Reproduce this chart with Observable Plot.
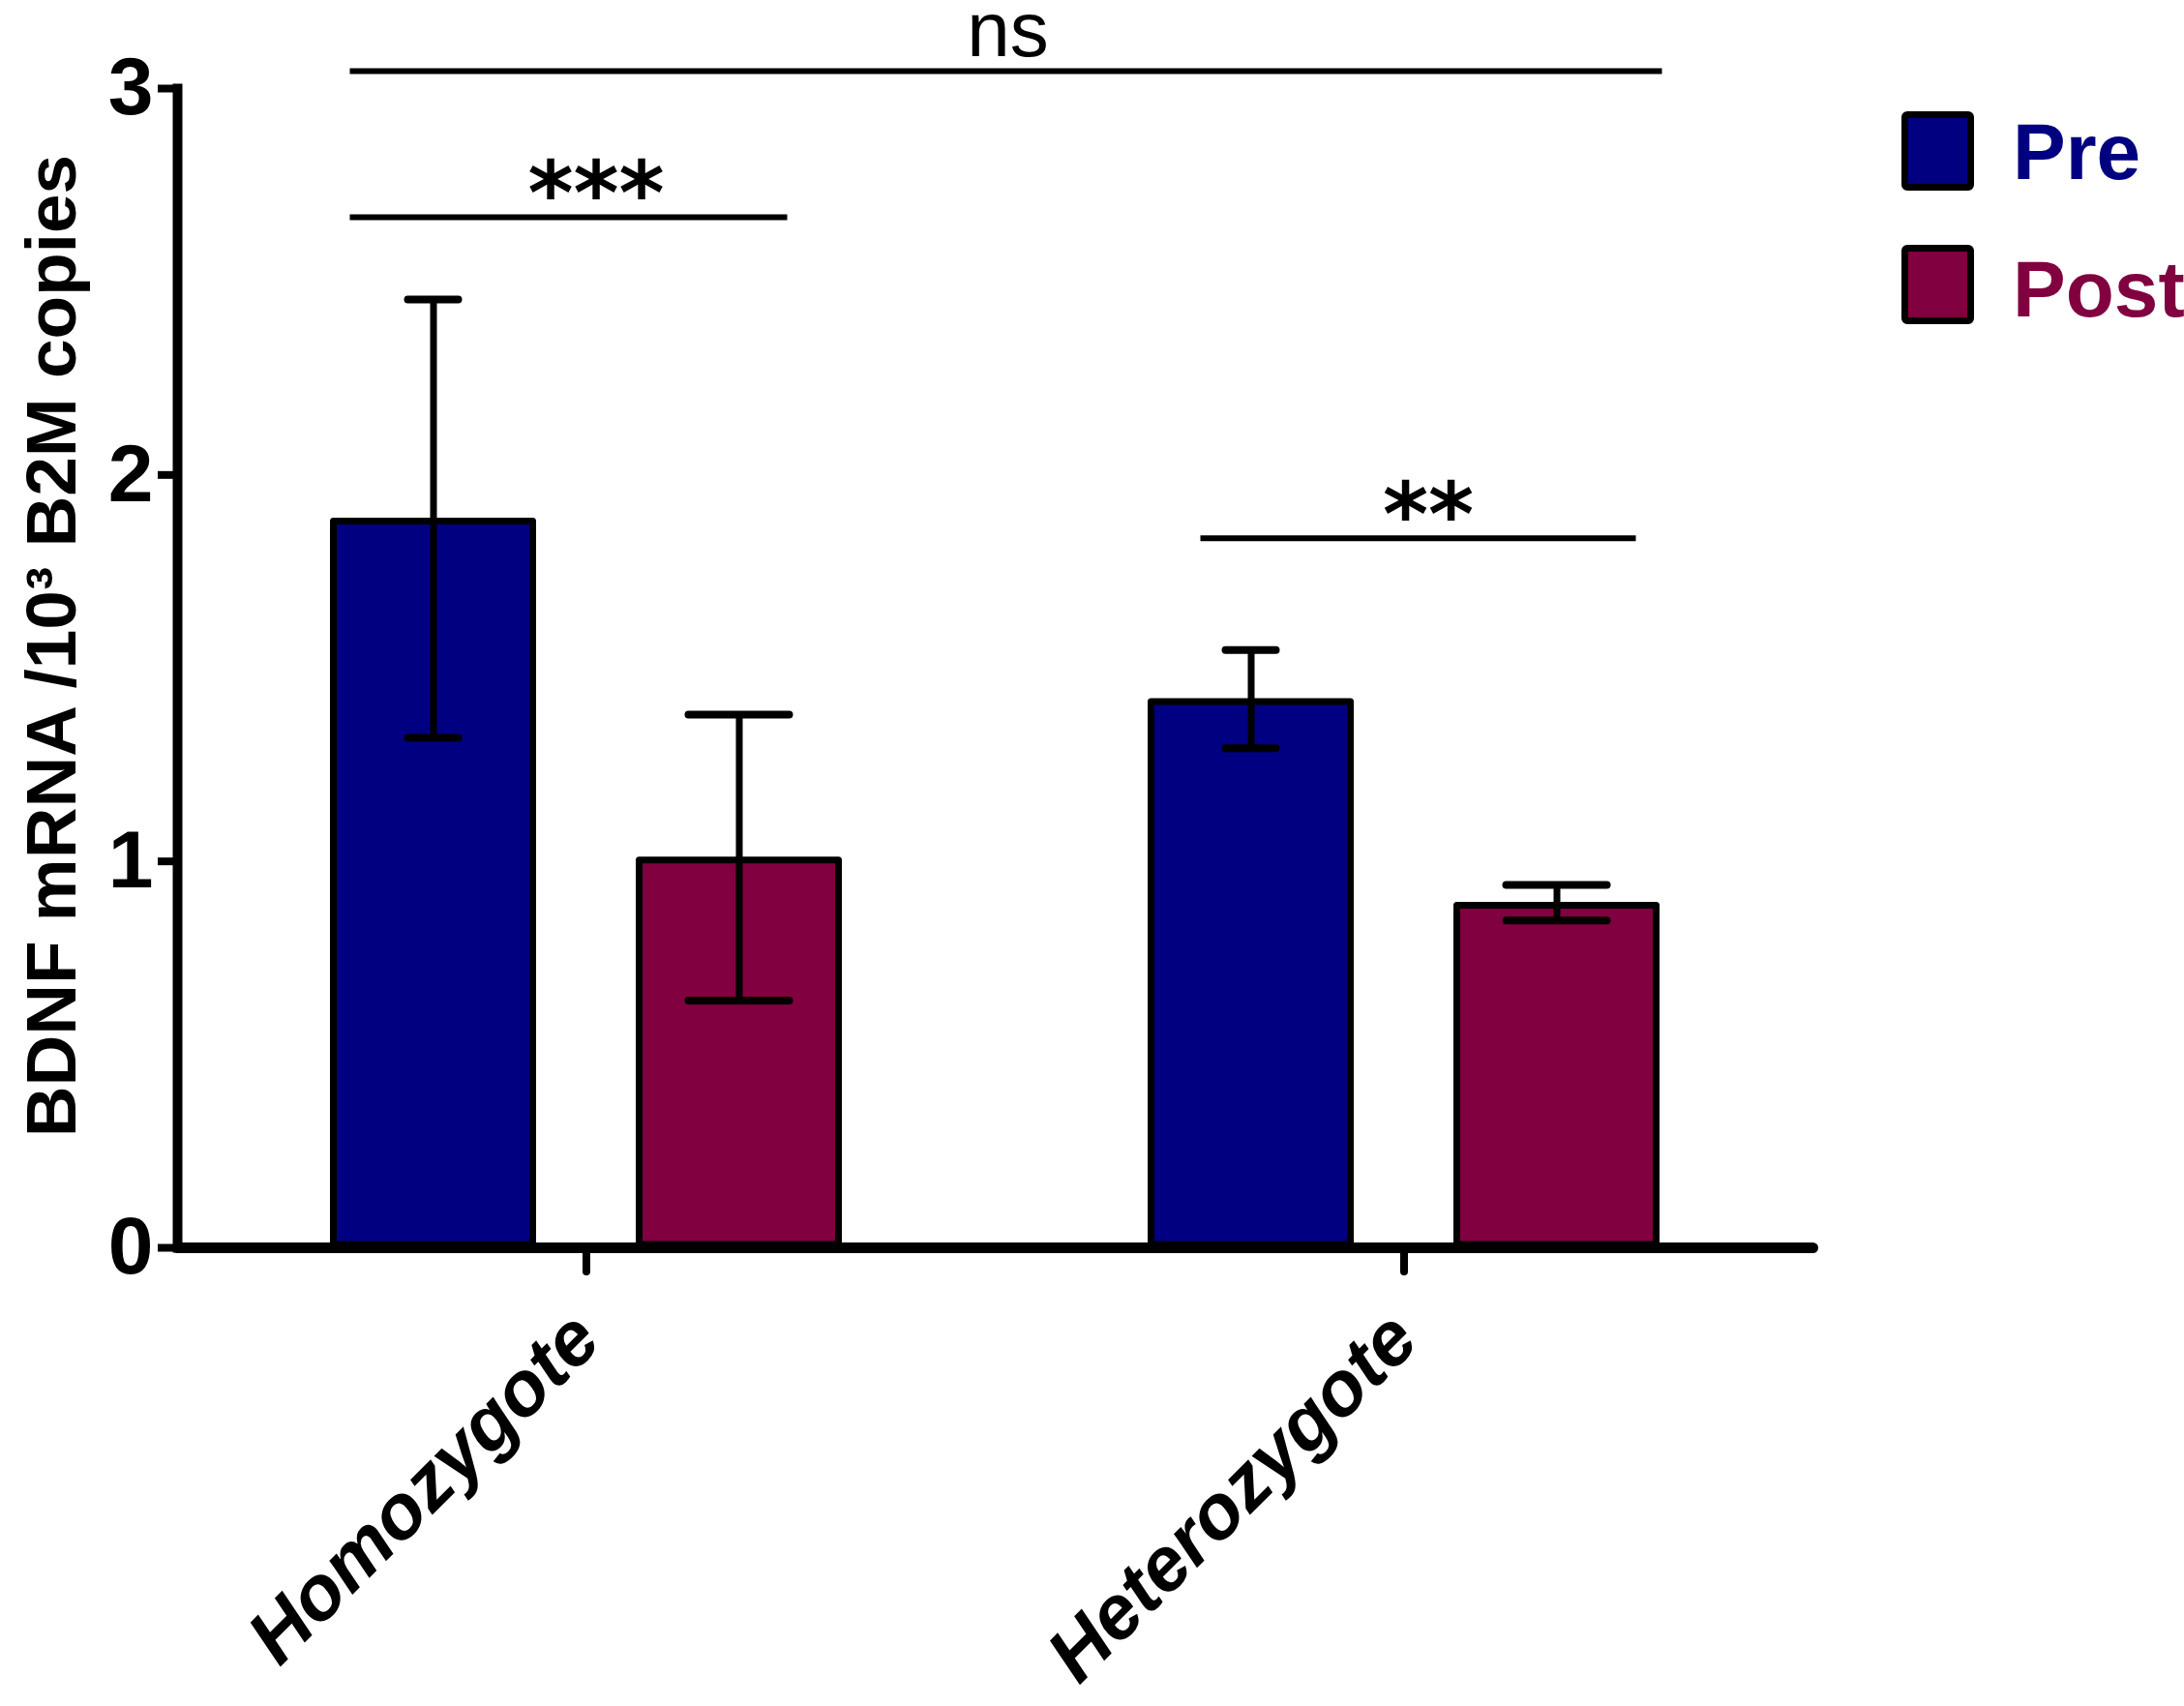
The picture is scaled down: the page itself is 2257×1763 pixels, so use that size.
<!DOCTYPE html>
<html>
<head>
<meta charset="utf-8">
<script src="https://cdn.jsdelivr.net/npm/d3@7"></script>
<script src="https://cdn.jsdelivr.net/npm/@observablehq/plot@0.6"></script>
<style>
  html, body { margin: 0; padding: 0; background: #fff; }
  #wrap { position: relative; width: 2257px; height: 1763px; overflow: hidden; background: #fff; }
  .sw { position: absolute; left: 1965px; width: 61px; height: 68px; border: 7px solid #000; border-radius: 6px; box-sizing: content-box; }
  .lt { position: absolute; left: 2080px; font: bold 82px "Liberation Sans", Arial, sans-serif; line-height: 82px; white-space: nowrap; }
</style>
</head>
<body>
<div id="wrap"></div>
<script>
// ---- data ----
const categories = ["Homozygote", "Heterozygote"];
const groups = ["Pre", "Post"];
const preMean = [1.887, 1.42];
const preSem = [0.567, 0.127];
const postMean = [1.01, 0.893];
const postSem = [0.37, 0.046];
const groupColors = ["#000080", "#800040"];
const yTicks = [0, 1, 2, 3];
const yLabel = "BDNF mRNA /10\u00B3 B2M copies";
const bracketCategories = ["Homozygote", "Heterozygote"];
const bracketY = [2.667, 1.836];
const bracketLabels = ["***", "**"];
const overallY = 3.045;
const overallLabel = "ns";

// ---- tables built from the arrays ----
const rows = categories.flatMap((c, i) => [
  {category: c, group: groups[0], mean: preMean[i], sem: preSem[i]},
  {category: c, group: groups[1], mean: postMean[i], sem: postSem[i]}
]);
const preRows = rows.filter(d => d.group === groups[0]);
const postRows = rows.filter(d => d.group === groups[1]);
const brackets = bracketCategories.map((c, i) => ({category: c, y: bracketY[i], label: bracketLabels[i], x1: groups[0], x2: groups[1]}));
// the overall bracket starts in the first facet and runs across to the last bar
const overall = [{category: categories[0], y: overallY, x1: groups[0], x2: groups[1], label: overallLabel}];

const chart = Plot.plot({
  width: 2257,
  height: 1763,
  marginLeft: 182.5,
  marginRight: 384.5,
  marginTop: 91,
  marginBottom: 474,
  style: {fontFamily: "'Liberation Sans', Arial, sans-serif", background: "white", overflow: "visible", color: "black"},
  fx: {domain: categories, padding: 0, label: null},
  x: {domain: groups, paddingInner: 0.328, paddingOuter: 0.497, axis: null},
  y: {domain: [0, 3], label: null},
  color: {domain: groups, range: groupColors},
  marks: [
    Plot.barY(rows, {fx: "category", x: "group", y: "mean", fill: "group", stroke: "black", strokeWidth: 7, inset: 3, strokeLinejoin: "round"}),
    Plot.ruleX(rows, {fx: "category", x: "group", y1: d => d.mean - d.sem, y2: d => d.mean + d.sem, stroke: "black", strokeWidth: 7}),
    Plot.tickY(preRows, {fx: "category", x: "group", y: d => d.mean + d.sem, stroke: "black", strokeWidth: 8, strokeLinecap: "round", insetLeft: 80, insetRight: 80}),
    Plot.tickY(preRows, {fx: "category", x: "group", y: d => d.mean - d.sem, stroke: "black", strokeWidth: 8, strokeLinecap: "round", insetLeft: 80, insetRight: 80}),
    Plot.tickY(postRows, {fx: "category", x: "group", y: d => d.mean + d.sem, stroke: "black", strokeWidth: 8, strokeLinecap: "round", insetLeft: 54, insetRight: 54}),
    Plot.tickY(postRows, {fx: "category", x: "group", y: d => d.mean - d.sem, stroke: "black", strokeWidth: 8, strokeLinecap: "round", insetLeft: 54, insetRight: 54}),
    // significance brackets
    Plot.ruleY(brackets.slice(0, 1), {fx: "category", y: "y", x1: "x1", x2: "x2", stroke: "black", strokeWidth: 6, insetLeft: 20, insetRight: 56}),
    Plot.ruleY(brackets.slice(1, 2), {fx: "category", y: "y", x1: "x1", x2: "x2", stroke: "black", strokeWidth: 6, insetLeft: 54, insetRight: 24}),
    Plot.text(brackets.slice(0, 1), {fx: "category", y: "y", text: "label", lineAnchor: "bottom", dx: 10, dy: 7, fontFamily: "'DejaVu Sans', sans-serif", fontWeight: "bold", fontSize: 90, fill: "black"}),
    Plot.text(brackets.slice(1, 2), {fx: "category", y: "y", text: "label", lineAnchor: "bottom", dx: 25, dy: 7, fontFamily: "'DejaVu Sans', sans-serif", fontWeight: "bold", fontSize: 90, fill: "black"}),
    Plot.ruleY(overall, {fx: "category", y: "y", x1: "x1", x2: "x2", stroke: "black", strokeWidth: 6, insetLeft: 20, insetRight: -848}),
    Plot.text(overall, {fx: "category", y: "y", text: "label", frameAnchor: "right", textAnchor: "middle", lineAnchor: "bottom", dx: 13, dy: -16, fontSize: 80, fill: "black"}),
    // axes
    Plot.frame({anchor: "bottom", facet: "super", stroke: "black", strokeWidth: 11, strokeLinecap: "round"}),
    Plot.frame({anchor: "left", facet: "super", stroke: "black", strokeWidth: 10}),
    Plot.axisY({ticks: yTicks, tickFormat: d => String(d), tickSize: 20, tickPadding: 5, strokeWidth: 8, fontSize: 84, fontWeight: "bold", fill: "black", label: null}),
    Plot.text([yLabel], {facet: "super", text: d => d, frameAnchor: "left", rotate: -90, textAnchor: "middle", lineAnchor: "top", dx: -157.5, dy: -23, fontSize: 73, fontWeight: "bold", fill: "black"}),
    Plot.axisFx({anchor: "bottom", tickSize: 25, tickPadding: 56, tickRotate: -45, strokeWidth: 8, strokeLinecap: "round", fontSize: 79, fontWeight: "bold", fontStyle: "italic", fill: "black", label: null})
  ]
});

const wrap = document.getElementById("wrap");
wrap.appendChild(chart);

// legend
const legendTops = [115, 253];
const textTops = [116, 258];
groups.forEach((g, i) => {
  const sw = document.createElement("div");
  sw.className = "sw";
  sw.style.top = legendTops[i] + "px";
  sw.style.background = groupColors[i];
  wrap.appendChild(sw);
  const t = document.createElement("div");
  t.className = "lt";
  t.style.top = textTops[i] + "px";
  t.style.color = groupColors[i];
  t.textContent = g;
  wrap.appendChild(t);
});
</script>
</body>
</html>
